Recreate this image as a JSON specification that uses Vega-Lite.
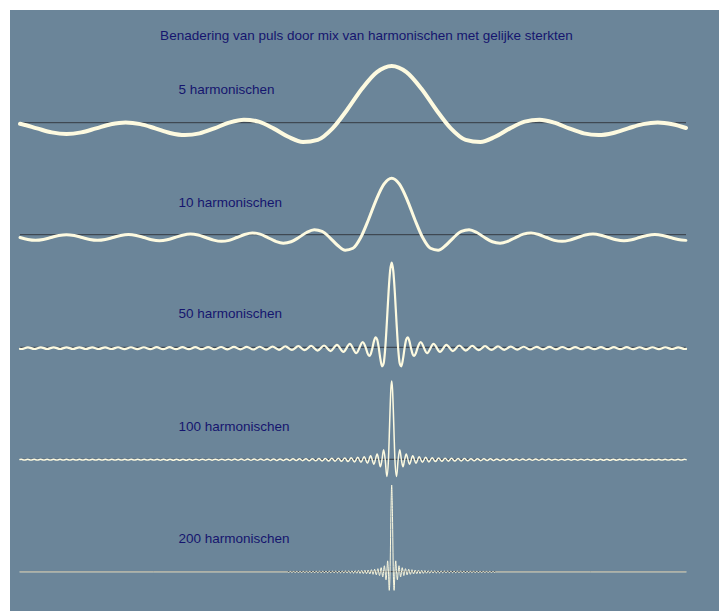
{
"$schema": "https://vega.github.io/schema/vega-lite/v6.json",
"width": 709, "height": 601,
"autosize": {"type": "none"},
"padding": {"left": 10, "top": 10, "right": 0, "bottom": 0},
"background": "#ffffff",
"view": {"fill": "#6b8599", "stroke": null},
"config": {"view": {"fill": "#6b8599", "stroke": null}, "axis": {"disable": true}},
"datasets": {
"h5": [{"x":-3.591,"y":-0.098},{"x":-3.57,"y":-0.138},{"x":-3.4272,"y":-0.5},{"x":-3.2844,"y":-0.854},{"x":-3.1416,"y":-1},{"x":-2.9988,"y":-0.854},{"x":-2.856,"y":-0.5},{"x":-2.7132,"y":-0.138},{"x":-2.5704,"y":0.021},{"x":-2.4276,"y":-0.123},{"x":-2.2848,"y":-0.5},{"x":-2.142,"y":-0.903},{"x":-1.9992,"y":-1.094},{"x":-1.8564,"y":-0.942},{"x":-1.7136,"y":-0.5},{"x":-1.5708,"y":0},{"x":-1.428,"y":0.264},{"x":-1.2852,"y":0.09},{"x":-1.1424,"y":-0.5},{"x":-0.9996,"y":-1.238},{"x":-0.8568,"y":-1.704},{"x":-0.714,"y":-1.512},{"x":-0.5712,"y":-0.5},{"x":-0.4284,"y":1.163},{"x":-0.2856,"y":3.013},{"x":-0.1428,"y":4.456},{"x":0,"y":5},{"x":0.1428,"y":4.456},{"x":0.2856,"y":3.013},{"x":0.4284,"y":1.163},{"x":0.5712,"y":-0.5},{"x":0.714,"y":-1.512},{"x":0.8568,"y":-1.704},{"x":0.9996,"y":-1.238},{"x":1.1424,"y":-0.5},{"x":1.2852,"y":0.09},{"x":1.428,"y":0.264},{"x":1.5708,"y":0},{"x":1.7136,"y":-0.5},{"x":1.8564,"y":-0.942},{"x":1.9992,"y":-1.094},{"x":2.142,"y":-0.903},{"x":2.2848,"y":-0.5},{"x":2.4276,"y":-0.123},{"x":2.5704,"y":0.021},{"x":2.7132,"y":-0.138},{"x":2.8435,"y":-0.465}],
"h10": [{"x":-3.5904,"y":-0.5},{"x":-3.5156,"y":-0.86},{"x":-3.4408,"y":-1.006},{"x":-3.366,"y":-0.856},{"x":-3.2912,"y":-0.5},{"x":-3.2164,"y":-0.146},{"x":-3.1416,"y":0},{"x":-3.0668,"y":-0.146},{"x":-2.992,"y":-0.5},{"x":-2.9172,"y":-0.856},{"x":-2.8424,"y":-1.006},{"x":-2.7676,"y":-0.86},{"x":-2.6928,"y":-0.5},{"x":-2.618,"y":-0.134},{"x":-2.5432,"y":0.023},{"x":-2.4684,"y":-0.125},{"x":-2.3936,"y":-0.5},{"x":-2.3188,"y":-0.886},{"x":-2.244,"y":-1.055},{"x":-2.1692,"y":-0.9},{"x":-2.0944,"y":-0.5},{"x":-2.0196,"y":-0.082},{"x":-1.9448,"y":0.105},{"x":-1.87,"y":-0.061},{"x":-1.7952,"y":-0.5},{"x":-1.7204,"y":-0.966},{"x":-1.6456,"y":-1.182},{"x":-1.5708,"y":-1},{"x":-1.496,"y":-0.5},{"x":-1.4212,"y":0.042},{"x":-1.3464,"y":0.302},{"x":-1.2716,"y":0.095},{"x":-1.1968,"y":-0.5},{"x":-1.122,"y":-1.165},{"x":-1.0472,"y":-1.5},{"x":-0.9724,"y":-1.257},{"x":-0.8976,"y":-0.5},{"x":-0.8228,"y":0.384},{"x":-0.748,"y":0.869},{"x":-0.6732,"y":0.57},{"x":-0.5984,"y":-0.5},{"x":-0.5236,"y":-1.866},{"x":-0.4488,"y":-2.747},{"x":-0.374,"y":-2.402},{"x":-0.2992,"y":-0.5},{"x":-0.2244,"y":2.658},{"x":-0.1496,"y":6.191},{"x":-0.0748,"y":8.955},{"x":0,"y":10},{"x":0.0748,"y":8.955},{"x":0.1496,"y":6.191},{"x":0.2244,"y":2.658},{"x":0.2992,"y":-0.5},{"x":0.374,"y":-2.402},{"x":0.4488,"y":-2.747},{"x":0.5236,"y":-1.866},{"x":0.5984,"y":-0.5},{"x":0.6732,"y":0.57},{"x":0.748,"y":0.869},{"x":0.8228,"y":0.384},{"x":0.8976,"y":-0.5},{"x":0.9724,"y":-1.257},{"x":1.0472,"y":-1.5},{"x":1.122,"y":-1.165},{"x":1.1968,"y":-0.5},{"x":1.2716,"y":0.095},{"x":1.3464,"y":0.302},{"x":1.4212,"y":0.042},{"x":1.496,"y":-0.5},{"x":1.5708,"y":-1},{"x":1.6456,"y":-1.182},{"x":1.7204,"y":-0.966},{"x":1.7952,"y":-0.5},{"x":1.87,"y":-0.061},{"x":1.9448,"y":0.105},{"x":2.0196,"y":-0.082},{"x":2.0944,"y":-0.5},{"x":2.1692,"y":-0.9},{"x":2.244,"y":-1.055},{"x":2.3188,"y":-0.886},{"x":2.3936,"y":-0.5},{"x":2.4684,"y":-0.125},{"x":2.5432,"y":0.023},{"x":2.618,"y":-0.134},{"x":2.6928,"y":-0.5},{"x":2.7676,"y":-0.86},{"x":2.8424,"y":-1.006}],
"h50": [{"x":-3.591,"y":-0.89},{"x":-3.5771,"y":-1.012},{"x":-3.5149,"y":0.009},{"x":-3.4527,"y":-1.006},{"x":-3.3904,"y":0.004},{"x":-3.3282,"y":-1.002},{"x":-3.266,"y":0.001},{"x":-3.2038,"y":-1},{"x":-3.1416,"y":0},{"x":-3.0794,"y":-1},{"x":-3.0172,"y":0.001},{"x":-2.955,"y":-1.002},{"x":-2.8928,"y":0.004},{"x":-2.8306,"y":-1.006},{"x":-2.7683,"y":0.009},{"x":-2.7061,"y":-1.012},{"x":-2.6439,"y":0.016},{"x":-2.5817,"y":-1.02},{"x":-2.5195,"y":0.025},{"x":-2.4573,"y":-1.031},{"x":-2.3951,"y":0.037},{"x":-2.3329,"y":-1.044},{"x":-2.2707,"y":0.051},{"x":-2.2085,"y":-1.06},{"x":-2.1462,"y":0.069},{"x":-2.084,"y":-1.079},{"x":-2.0218,"y":0.09},{"x":-1.9596,"y":-1.102},{"x":-1.8974,"y":0.115},{"x":-1.8352,"y":-1.13},{"x":-1.773,"y":0.145},{"x":-1.7108,"y":-1.162},{"x":-1.6486,"y":0.181},{"x":-1.5864,"y":-1.202},{"x":-1.5241,"y":0.224},{"x":-1.4619,"y":-1.249},{"x":-1.3997,"y":0.276},{"x":-1.3375,"y":-1.307},{"x":-1.2753,"y":0.34},{"x":-1.2131,"y":-1.377},{"x":-1.1509,"y":0.419},{"x":-1.0887,"y":-1.465},{"x":-1.0265,"y":0.518},{"x":-0.9643,"y":-1.579},{"x":-0.902,"y":0.647},{"x":-0.8398,"y":-1.726},{"x":-0.7776,"y":0.819},{"x":-0.7154,"y":-1.928},{"x":-0.6532,"y":1.058},{"x":-0.591,"y":-2.217},{"x":-0.5288,"y":1.413},{"x":-0.4666,"y":-2.663},{"x":-0.4044,"y":1.99},{"x":-0.3422,"y":-3.437},{"x":-0.2799,"y":3.084},{"x":-0.2488,"y":-0.5},{"x":-0.2333,"y":-3.53},{"x":-0.2177,"y":-5.09},{"x":-0.2022,"y":-4},{"x":-0.1866,"y":-0.5},{"x":-0.1711,"y":3.64},{"x":-0.1555,"y":5.93},{"x":-0.14,"y":4.55},{"x":-0.1244,"y":-0.5},{"x":-0.1089,"y":-6.99},{"x":-0.0933,"y":-11.22},{"x":-0.0778,"y":-9.6},{"x":-0.0622,"y":-0.5},{"x":-0.0467,"y":14.66},{"x":-0.0311,"y":31.65},{"x":-0.0156,"y":44.97},{"x":0,"y":50},{"x":0.0156,"y":44.97},{"x":0.0311,"y":31.65},{"x":0.0467,"y":14.66},{"x":0.0622,"y":-0.5},{"x":0.0778,"y":-9.6},{"x":0.0933,"y":-11.22},{"x":0.1089,"y":-6.99},{"x":0.1244,"y":-0.5},{"x":0.14,"y":4.55},{"x":0.1555,"y":5.93},{"x":0.1711,"y":3.64},{"x":0.1866,"y":-0.5},{"x":0.2022,"y":-4},{"x":0.2177,"y":-5.09},{"x":0.2333,"y":-3.53},{"x":0.2488,"y":-0.5},{"x":0.2799,"y":3.084},{"x":0.3422,"y":-3.437},{"x":0.4044,"y":1.99},{"x":0.4666,"y":-2.663},{"x":0.5288,"y":1.413},{"x":0.591,"y":-2.217},{"x":0.6532,"y":1.058},{"x":0.7154,"y":-1.928},{"x":0.7776,"y":0.819},{"x":0.8398,"y":-1.726},{"x":0.902,"y":0.647},{"x":0.9643,"y":-1.579},{"x":1.0265,"y":0.518},{"x":1.0887,"y":-1.465},{"x":1.1509,"y":0.419},{"x":1.2131,"y":-1.377},{"x":1.2753,"y":0.34},{"x":1.3375,"y":-1.307},{"x":1.3997,"y":0.276},{"x":1.4619,"y":-1.249},{"x":1.5241,"y":0.224},{"x":1.5864,"y":-1.202},{"x":1.6486,"y":0.181},{"x":1.7108,"y":-1.162},{"x":1.773,"y":0.145},{"x":1.8352,"y":-1.13},{"x":1.8974,"y":0.115},{"x":1.9596,"y":-1.102},{"x":2.0218,"y":0.09},{"x":2.084,"y":-1.079},{"x":2.1462,"y":0.069},{"x":2.2085,"y":-1.06},{"x":2.2707,"y":0.051},{"x":2.3329,"y":-1.044},{"x":2.3951,"y":0.037},{"x":2.4573,"y":-1.031},{"x":2.5195,"y":0.025},{"x":2.5817,"y":-1.02},{"x":2.6439,"y":0.016},{"x":2.7061,"y":-1.012},{"x":2.7683,"y":0.009},{"x":2.8306,"y":-1.006},{"x":2.8435,"y":-0.9}],
"h100": [{"x":-3.591,"y":-0.3},{"x":-3.5793,"y":0.01},{"x":-3.548,"y":-1.01},{"x":-3.5167,"y":0.01},{"x":-3.4855,"y":-1.01},{"x":-3.4542,"y":0.01},{"x":-3.423,"y":-1.01},{"x":-3.3917,"y":0},{"x":-3.3604,"y":-1},{"x":-3.3292,"y":0},{"x":-3.2979,"y":-1},{"x":-3.2667,"y":0},{"x":-3.2354,"y":-1},{"x":-3.2041,"y":0},{"x":-3.1729,"y":-1},{"x":-3.1416,"y":0},{"x":-3.1104,"y":-1},{"x":-3.0791,"y":0},{"x":-3.0478,"y":-1},{"x":-3.0166,"y":0},{"x":-2.9853,"y":-1},{"x":-2.9541,"y":0},{"x":-2.9228,"y":-1},{"x":-2.8915,"y":0},{"x":-2.8603,"y":-1.01},{"x":-2.829,"y":0.01},{"x":-2.7978,"y":-1.01},{"x":-2.7665,"y":0.01},{"x":-2.7352,"y":-1.01},{"x":-2.704,"y":0.01},{"x":-2.6727,"y":-1.01},{"x":-2.6415,"y":0.02},{"x":-2.6102,"y":-1.02},{"x":-2.5789,"y":0.02},{"x":-2.5477,"y":-1.02},{"x":-2.5164,"y":0.03},{"x":-2.4852,"y":-1.03},{"x":-2.4539,"y":0.03},{"x":-2.4226,"y":-1.03},{"x":-2.3914,"y":0.04},{"x":-2.3601,"y":-1.04},{"x":-2.3289,"y":0.04},{"x":-2.2976,"y":-1.05},{"x":-2.2663,"y":0.05},{"x":-2.2351,"y":-1.06},{"x":-2.2038,"y":0.06},{"x":-2.1726,"y":-1.07},{"x":-2.1413,"y":0.07},{"x":-2.11,"y":-1.07},{"x":-2.0788,"y":0.08},{"x":-2.0475,"y":-1.09},{"x":-2.0163,"y":0.09},{"x":-1.985,"y":-1.1},{"x":-1.9537,"y":0.1},{"x":-1.9225,"y":-1.11},{"x":-1.8912,"y":0.12},{"x":-1.86,"y":-1.12},{"x":-1.8287,"y":0.13},{"x":-1.7974,"y":-1.14},{"x":-1.7662,"y":0.15},{"x":-1.7349,"y":-1.16},{"x":-1.7037,"y":0.16},{"x":-1.6724,"y":-1.17},{"x":-1.6411,"y":0.18},{"x":-1.6099,"y":-1.19},{"x":-1.5786,"y":0.2},{"x":-1.5474,"y":-1.22},{"x":-1.5161,"y":0.23},{"x":-1.4848,"y":-1.24},{"x":-1.4536,"y":0.25},{"x":-1.4223,"y":-1.27},{"x":-1.3911,"y":0.28},{"x":-1.3598,"y":-1.3},{"x":-1.3285,"y":0.31},{"x":-1.2973,"y":-1.33},{"x":-1.266,"y":0.35},{"x":-1.2348,"y":-1.36},{"x":-1.2035,"y":0.38},{"x":-1.1722,"y":-1.4},{"x":-1.141,"y":0.43},{"x":-1.1097,"y":-1.45},{"x":-1.0785,"y":0.47},{"x":-1.0472,"y":-1.5},{"x":-1.0159,"y":0.53},{"x":-0.9847,"y":-1.56},{"x":-0.9534,"y":0.59},{"x":-0.9222,"y":-1.62},{"x":-0.8909,"y":0.66},{"x":-0.8596,"y":-1.7},{"x":-0.8284,"y":0.74},{"x":-0.7971,"y":-1.79},{"x":-0.7659,"y":0.84},{"x":-0.7346,"y":-1.89},{"x":-0.7033,"y":0.95},{"x":-0.6721,"y":-2.02},{"x":-0.6408,"y":1.09},{"x":-0.6096,"y":-2.17},{"x":-0.5783,"y":1.25},{"x":-0.547,"y":-2.35},{"x":-0.5158,"y":1.46},{"x":-0.4845,"y":-2.58},{"x":-0.4533,"y":1.73},{"x":-0.422,"y":-2.89},{"x":-0.3907,"y":2.08},{"x":-0.3595,"y":-3.3},{"x":-0.3282,"y":2.56},{"x":-0.297,"y":-3.88},{"x":-0.2657,"y":3.27},{"x":-0.2345,"y":-4.78},{"x":-0.2032,"y":4.43},{"x":-0.1719,"y":-6.32},{"x":-0.1407,"y":6.61},{"x":-0.125,"y":-0.5},{"x":-0.1094,"y":-9.64},{"x":-0.0938,"y":-0.5},{"x":-0.0782,"y":12.29},{"x":-0.0625,"y":-0.5},{"x":-0.0469,"y":-21.83},{"x":-0.0313,"y":-0.5},{"x":-0.0234,"y":29.66},{"x":-0.0156,"y":63.48},{"x":-0.0078,"y":89.98},{"x":0,"y":100},{"x":0.0078,"y":89.98},{"x":0.0156,"y":63.48},{"x":0.0234,"y":29.66},{"x":0.0313,"y":-0.5},{"x":0.0469,"y":-21.83},{"x":0.0625,"y":-0.5},{"x":0.0782,"y":12.29},{"x":0.0938,"y":-0.5},{"x":0.1094,"y":-9.64},{"x":0.125,"y":-0.5},{"x":0.1407,"y":6.61},{"x":0.1719,"y":-6.32},{"x":0.2032,"y":4.43},{"x":0.2345,"y":-4.78},{"x":0.2657,"y":3.27},{"x":0.297,"y":-3.88},{"x":0.3282,"y":2.56},{"x":0.3595,"y":-3.3},{"x":0.3907,"y":2.08},{"x":0.422,"y":-2.89},{"x":0.4533,"y":1.73},{"x":0.4845,"y":-2.58},{"x":0.5158,"y":1.46},{"x":0.547,"y":-2.35},{"x":0.5783,"y":1.25},{"x":0.6096,"y":-2.17},{"x":0.6408,"y":1.09},{"x":0.6721,"y":-2.02},{"x":0.7033,"y":0.95},{"x":0.7346,"y":-1.89},{"x":0.7659,"y":0.84},{"x":0.7971,"y":-1.79},{"x":0.8284,"y":0.74},{"x":0.8596,"y":-1.7},{"x":0.8909,"y":0.66},{"x":0.9222,"y":-1.62},{"x":0.9534,"y":0.59},{"x":0.9847,"y":-1.56},{"x":1.0159,"y":0.53},{"x":1.0472,"y":-1.5},{"x":1.0785,"y":0.47},{"x":1.1097,"y":-1.45},{"x":1.141,"y":0.43},{"x":1.1722,"y":-1.4},{"x":1.2035,"y":0.38},{"x":1.2348,"y":-1.36},{"x":1.266,"y":0.35},{"x":1.2973,"y":-1.33},{"x":1.3285,"y":0.31},{"x":1.3598,"y":-1.3},{"x":1.3911,"y":0.28},{"x":1.4223,"y":-1.27},{"x":1.4536,"y":0.25},{"x":1.4848,"y":-1.24},{"x":1.5161,"y":0.23},{"x":1.5474,"y":-1.22},{"x":1.5786,"y":0.2},{"x":1.6099,"y":-1.19},{"x":1.6411,"y":0.18},{"x":1.6724,"y":-1.17},{"x":1.7037,"y":0.16},{"x":1.7349,"y":-1.16},{"x":1.7662,"y":0.15},{"x":1.7974,"y":-1.14},{"x":1.8287,"y":0.13},{"x":1.86,"y":-1.12},{"x":1.8912,"y":0.12},{"x":1.9225,"y":-1.11},{"x":1.9537,"y":0.1},{"x":1.985,"y":-1.1},{"x":2.0163,"y":0.09},{"x":2.0475,"y":-1.09},{"x":2.0788,"y":0.08},{"x":2.11,"y":-1.07},{"x":2.1413,"y":0.07},{"x":2.1726,"y":-1.07},{"x":2.2038,"y":0.06},{"x":2.2351,"y":-1.06},{"x":2.2663,"y":0.05},{"x":2.2976,"y":-1.05},{"x":2.3289,"y":0.04},{"x":2.3601,"y":-1.04},{"x":2.3914,"y":0.04},{"x":2.4226,"y":-1.03},{"x":2.4539,"y":0.03},{"x":2.4852,"y":-1.03},{"x":2.5164,"y":0.03},{"x":2.5477,"y":-1.02},{"x":2.5789,"y":0.02},{"x":2.6102,"y":-1.02},{"x":2.6415,"y":0.02},{"x":2.6727,"y":-1.01},{"x":2.704,"y":0.01},{"x":2.7352,"y":-1.01},{"x":2.7665,"y":0.01},{"x":2.7978,"y":-1.01},{"x":2.829,"y":0.01},{"x":2.8435,"y":-0.44}],
"h200": [{"x":-3.591,"y":-0.5},{"x":-1.0028,"y":-0.5},{"x":-0.995,"y":-1.55},{"x":-0.9793,"y":0.56},{"x":-0.9636,"y":-1.58},{"x":-0.948,"y":0.6},{"x":-0.9323,"y":-1.61},{"x":-0.9166,"y":0.63},{"x":-0.901,"y":-1.65},{"x":-0.8853,"y":0.67},{"x":-0.8696,"y":-1.69},{"x":-0.854,"y":0.71},{"x":-0.8383,"y":-1.73},{"x":-0.8226,"y":0.75},{"x":-0.807,"y":-1.77},{"x":-0.7913,"y":0.8},{"x":-0.7756,"y":-1.82},{"x":-0.7599,"y":0.85},{"x":-0.7443,"y":-1.88},{"x":-0.7286,"y":0.9},{"x":-0.7129,"y":-1.93},{"x":-0.6973,"y":0.96},{"x":-0.6816,"y":-2},{"x":-0.6659,"y":1.03},{"x":-0.6503,"y":-2.07},{"x":-0.6346,"y":1.1},{"x":-0.6189,"y":-2.14},{"x":-0.6033,"y":1.18},{"x":-0.5876,"y":-2.23},{"x":-0.5719,"y":1.27},{"x":-0.5563,"y":-2.32},{"x":-0.5406,"y":1.37},{"x":-0.5249,"y":-2.43},{"x":-0.5092,"y":1.49},{"x":-0.4936,"y":-2.55},{"x":-0.4779,"y":1.61},{"x":-0.4622,"y":-2.68},{"x":-0.4466,"y":1.76},{"x":-0.4309,"y":-2.84},{"x":-0.4152,"y":1.93},{"x":-0.3996,"y":-3.02},{"x":-0.3839,"y":2.12},{"x":-0.3682,"y":-3.23},{"x":-0.3526,"y":2.35},{"x":-0.3369,"y":-3.48},{"x":-0.3212,"y":2.63},{"x":-0.3055,"y":-3.79},{"x":-0.2899,"y":2.96},{"x":-0.2742,"y":-4.16},{"x":-0.2585,"y":3.38},{"x":-0.2429,"y":-4.63},{"x":-0.2272,"y":3.91},{"x":-0.2115,"y":-5.24},{"x":-0.1959,"y":4.61},{"x":-0.1802,"y":-6.06},{"x":-0.1645,"y":5.59},{"x":-0.1489,"y":-7.22},{"x":-0.1332,"y":7.01},{"x":-0.1175,"y":-9.01},{"x":-0.1018,"y":9.32},{"x":-0.0862,"y":-12.1},{"x":-0.0705,"y":13.69},{"x":-0.0627,"y":-0.5},{"x":-0.0548,"y":-18.73},{"x":-0.047,"y":-0.5},{"x":-0.0392,"y":25.02},{"x":-0.0313,"y":-0.5},{"x":-0.0235,"y":-43.05},{"x":-0.0157,"y":-0.5},{"x":-0.0078,"y":127.1},{"x":0,"y":200},{"x":0.0078,"y":127.1},{"x":0.0157,"y":-0.5},{"x":0.0235,"y":-43.05},{"x":0.0313,"y":-0.5},{"x":0.0392,"y":25.02},{"x":0.047,"y":-0.5},{"x":0.0548,"y":-18.73},{"x":0.0627,"y":-0.5},{"x":0.0705,"y":13.69},{"x":0.0862,"y":-12.1},{"x":0.1018,"y":9.32},{"x":0.1175,"y":-9.01},{"x":0.1332,"y":7.01},{"x":0.1489,"y":-7.22},{"x":0.1645,"y":5.59},{"x":0.1802,"y":-6.06},{"x":0.1959,"y":4.61},{"x":0.2115,"y":-5.24},{"x":0.2272,"y":3.91},{"x":0.2429,"y":-4.63},{"x":0.2585,"y":3.38},{"x":0.2742,"y":-4.16},{"x":0.2899,"y":2.96},{"x":0.3055,"y":-3.79},{"x":0.3212,"y":2.63},{"x":0.3369,"y":-3.48},{"x":0.3526,"y":2.35},{"x":0.3682,"y":-3.23},{"x":0.3839,"y":2.12},{"x":0.3996,"y":-3.02},{"x":0.4152,"y":1.93},{"x":0.4309,"y":-2.84},{"x":0.4466,"y":1.76},{"x":0.4622,"y":-2.68},{"x":0.4779,"y":1.61},{"x":0.4936,"y":-2.55},{"x":0.5092,"y":1.49},{"x":0.5249,"y":-2.43},{"x":0.5406,"y":1.37},{"x":0.5563,"y":-2.32},{"x":0.5719,"y":1.27},{"x":0.5876,"y":-2.23},{"x":0.6033,"y":1.18},{"x":0.6189,"y":-2.14},{"x":0.6346,"y":1.1},{"x":0.6503,"y":-2.07},{"x":0.6659,"y":1.03},{"x":0.6816,"y":-2},{"x":0.6973,"y":0.96},{"x":0.7129,"y":-1.93},{"x":0.7286,"y":0.9},{"x":0.7443,"y":-1.88},{"x":0.7599,"y":0.85},{"x":0.7756,"y":-1.82},{"x":0.7913,"y":0.8},{"x":0.807,"y":-1.77},{"x":0.8226,"y":0.75},{"x":0.8383,"y":-1.73},{"x":0.854,"y":0.71},{"x":0.8696,"y":-1.69},{"x":0.8853,"y":0.67},{"x":0.901,"y":-1.65},{"x":0.9166,"y":0.63},{"x":0.9323,"y":-1.61},{"x":0.948,"y":0.6},{"x":0.9636,"y":-1.58},{"x":0.9793,"y":0.56},{"x":0.995,"y":-1.55},{"x":1.0028,"y":-0.5},{"x":2.8435,"y":-0.5}]
},
"layer": [
{"layer": [
 {"data": {"values": [{}]}, "mark": {"type": "rule", "color": "#353a42", "strokeWidth": 1},
  "encoding": {"x": {"datum": -3.591, "type": "quantitative", "scale": {"domain": [-3.6876, 3.1623], "nice": false, "zero": false}, "axis": null}, "x2": {"datum": 2.8435}, "y": {"datum": 0, "type": "quantitative", "scale": {"domain": [-43.06, 9.938], "nice": false, "zero": false}, "axis": null}}},
 {"data": {"name": "h5"}, "mark": {"type": "line", "interpolate": "monotone", "color": "#fdfae0", "strokeWidth": 4, "strokeCap": "round", "strokeJoin": "round"},
  "encoding": {"x": {"field": "x", "type": "quantitative", "scale": {"domain": [-3.6876, 3.1623], "nice": false, "zero": false}, "axis": null}, "y": {"field": "y", "type": "quantitative", "scale": {"domain": [-43.06, 9.938], "nice": false, "zero": false}, "axis": null}}},
 {"data": {"values": [{"label": "5 harmonischen"}]}, "mark": {"type": "text", "align": "left", "baseline": "alphabetic", "font": "Liberation Sans", "fontSize": 13.5, "color": "#15156e"},
  "encoding": {"text": {"field": "label", "type": "nominal"}, "x": {"datum": -2.06, "type": "quantitative", "scale": {"domain": [-3.6876, 3.1623], "nice": false, "zero": false}, "axis": null}, "y": {"datum": 2.531, "type": "quantitative", "scale": {"domain": [-43.06, 9.938], "nice": false, "zero": false}, "axis": null}}},
 {"data": {"values": [{"label": "Benadering van puls door mix van harmonischen met gelijke sterkten"}]}, "mark": {"type": "text", "align": "center", "baseline": "alphabetic", "font": "Liberation Sans", "fontSize": 13.5, "color": "#15156e"},
  "encoding": {"text": {"field": "label", "type": "nominal"}, "x": {"datum": -0.2435, "type": "quantitative", "scale": {"domain": [-3.6876, 3.1623], "nice": false, "zero": false}, "axis": null}, "y": {"datum": 7.249, "type": "quantitative", "scale": {"domain": [-43.06, 9.938], "nice": false, "zero": false}, "axis": null}}}
]},
{"layer": [
 {"data": {"values": [{}]}, "mark": {"type": "rule", "color": "#353a42", "strokeWidth": 1},
  "encoding": {"x": {"datum": -3.591, "type": "quantitative", "scale": {"domain": [-3.6876, 3.1623], "nice": false, "zero": false}, "axis": null}, "x2": {"datum": 2.8435}, "y": {"datum": 0, "type": "quantitative", "scale": {"domain": [-66.72, 39.84], "nice": false, "zero": false}, "axis": null}}},
 {"data": {"name": "h10"}, "mark": {"type": "line", "interpolate": "monotone", "color": "#fdfae0", "strokeWidth": 3, "strokeCap": "round", "strokeJoin": "round"},
  "encoding": {"x": {"field": "x", "type": "quantitative", "scale": {"domain": [-3.6876, 3.1623], "nice": false, "zero": false}, "axis": null}, "y": {"field": "y", "type": "quantitative", "scale": {"domain": [-66.72, 39.84], "nice": false, "zero": false}, "axis": null}}},
 {"data": {"values": [{"label": "10 harmonischen"}]}, "mark": {"type": "text", "align": "left", "baseline": "alphabetic", "font": "Liberation Sans", "fontSize": 13.5, "color": "#15156e"},
  "encoding": {"text": {"field": "label", "type": "nominal"}, "x": {"datum": -2.06, "type": "quantitative", "scale": {"domain": [-3.6876, 3.1623], "nice": false, "zero": false}, "axis": null}, "y": {"datum": 4.965, "type": "quantitative", "scale": {"domain": [-66.72, 39.84], "nice": false, "zero": false}, "axis": null}}}
]},
{"layer": [
 {"data": {"values": [{}]}, "mark": {"type": "rule", "color": "#353a42", "strokeWidth": 1},
  "encoding": {"x": {"datum": -3.591, "type": "quantitative", "scale": {"domain": [-3.6876, 3.1623], "nice": false, "zero": false}, "axis": null}, "x2": {"datum": 2.8435}, "y": {"datum": 0, "type": "quantitative", "scale": {"domain": [-155.85, 199.35], "nice": false, "zero": false}, "axis": null}}},
 {"data": {"name": "h50"}, "mark": {"type": "line", "interpolate": "monotone", "color": "#fdfae0", "strokeWidth": 2.2, "strokeCap": "round", "strokeJoin": "round"},
  "encoding": {"x": {"field": "x", "type": "quantitative", "scale": {"domain": [-3.6876, 3.1623], "nice": false, "zero": false}, "axis": null}, "y": {"field": "y", "type": "quantitative", "scale": {"domain": [-155.85, 199.35], "nice": false, "zero": false}, "axis": null}}},
 {"data": {"values": [{"label": "50 harmonischen"}]}, "mark": {"type": "text", "align": "left", "baseline": "alphabetic", "font": "Liberation Sans", "fontSize": 13.5, "color": "#15156e"},
  "encoding": {"text": {"field": "label", "type": "nominal"}, "x": {"datum": -2.06, "type": "quantitative", "scale": {"domain": [-3.6876, 3.1623], "nice": false, "zero": false}, "axis": null}, "y": {"datum": 17.14, "type": "quantitative", "scale": {"domain": [-155.85, 199.35], "nice": false, "zero": false}, "axis": null}}}
]},
{"layer": [
 {"data": {"values": [{}]}, "mark": {"type": "rule", "color": "#353a42", "strokeWidth": 1},
  "encoding": {"x": {"datum": -3.591, "type": "quantitative", "scale": {"domain": [-3.6876, 3.1623], "nice": false, "zero": false}, "axis": null}, "x2": {"datum": 2.8435}, "y": {"datum": 0, "type": "quantitative", "scale": {"domain": [-193.74, 573.8], "nice": false, "zero": false}, "axis": null}}},
 {"data": {"name": "h100"}, "mark": {"type": "line", "interpolate": "monotone", "color": "#fdfae0", "strokeWidth": 1.5, "strokeCap": "round", "strokeJoin": "round"},
  "encoding": {"x": {"field": "x", "type": "quantitative", "scale": {"domain": [-3.6876, 3.1623], "nice": false, "zero": false}, "axis": null}, "y": {"field": "y", "type": "quantitative", "scale": {"domain": [-193.74, 573.8], "nice": false, "zero": false}, "axis": null}}},
 {"data": {"values": [{"label": "100 harmonischen"}]}, "mark": {"type": "text", "align": "left", "baseline": "alphabetic", "font": "Liberation Sans", "fontSize": 13.5, "color": "#15156e"},
  "encoding": {"text": {"field": "label", "type": "nominal"}, "x": {"datum": -2.06, "type": "quantitative", "scale": {"domain": [-3.6876, 3.1623], "nice": false, "zero": false}, "axis": null}, "y": {"datum": 36.53, "type": "quantitative", "scale": {"domain": [-193.74, 573.8], "nice": false, "zero": false}, "axis": null}}}
]},
{"layer": [
 {"data": {"values": [{}]}, "mark": {"type": "rule", "color": "#353a42", "strokeWidth": 1},
  "encoding": {"x": {"datum": -3.591, "type": "quantitative", "scale": {"domain": [-3.6876, 3.1623], "nice": false, "zero": false}, "axis": null}, "x2": {"datum": 2.8435}, "y": {"datum": 0, "type": "quantitative", "scale": {"domain": [-90.66, 1295.7], "nice": false, "zero": false}, "axis": null}}},
 {"data": {"name": "h200"}, "mark": {"type": "line", "interpolate": "monotone", "color": "#fdfae0", "strokeWidth": 1, "strokeCap": "round", "strokeJoin": "round"},
  "encoding": {"x": {"field": "x", "type": "quantitative", "scale": {"domain": [-3.6876, 3.1623], "nice": false, "zero": false}, "axis": null}, "y": {"field": "y", "type": "quantitative", "scale": {"domain": [-90.66, 1295.7], "nice": false, "zero": false}, "axis": null}}},
 {"data": {"values": [{"label": "200 harmonischen"}]}, "mark": {"type": "text", "align": "left", "baseline": "alphabetic", "font": "Liberation Sans", "fontSize": 13.5, "color": "#15156e"},
  "encoding": {"text": {"field": "label", "type": "nominal"}, "x": {"datum": -2.06, "type": "quantitative", "scale": {"domain": [-3.6876, 3.1623], "nice": false, "zero": false}, "axis": null}, "y": {"datum": 65.51, "type": "quantitative", "scale": {"domain": [-90.66, 1295.7], "nice": false, "zero": false}, "axis": null}}}
]}
],
"resolve": {"scale": {"y": "independent"}}
}
